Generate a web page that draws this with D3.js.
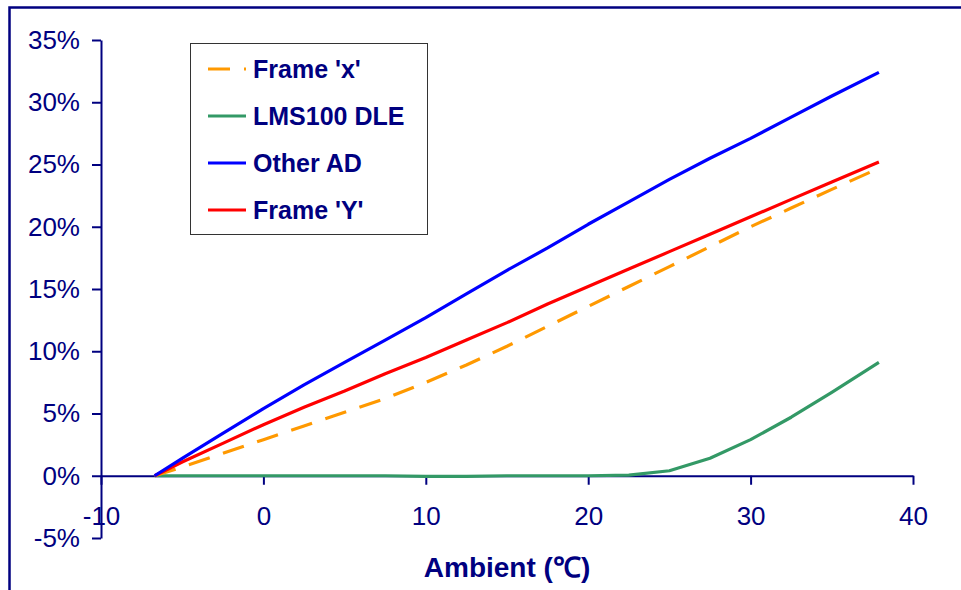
<!DOCTYPE html>
<html>
<head>
<meta charset="utf-8">
<script src="https://cdn.jsdelivr.net/npm/d3@7"></script>
<style>
  body { margin: 0; background: #fff; }
  svg { display: block; }
  .axis path, .axis line { stroke: #000080; stroke-width: 2; }
  .axis text { fill: #000080; font-family: "Liberation Sans", Arial, sans-serif; font-size: 26px; }
</style>
</head>
<body>
<svg id="chart" width="961" height="590"></svg>
<script>
// ambient temperature (deg C) at each sample
var temps = [-6.7, -5, -2.5, 0, 2.5, 5, 7.5, 10, 12.5, 15, 17.5, 20, 22.5, 25, 27.5, 30, 32.5, 35, 37.9];

// percentage values per series
var frameX  = [0, 0.7, 1.8, 2.9, 4.0, 5.1, 6.2, 7.5, 8.9, 10.4, 12.0, 13.6, 15.2, 16.8, 18.4, 20.0, 21.5, 23.0, 24.7];
var lms100  = [0, 0, 0, 0, 0, 0, 0, -0.05, -0.05, 0, 0, 0, 0.05, 0.4, 1.4, 2.9, 4.7, 6.7, 9.1];
var otherAD = [0, 1.4, 3.4, 5.4, 7.3, 9.1, 10.9, 12.7, 14.6, 16.5, 18.3, 20.2, 22.0, 23.8, 25.5, 27.1, 28.8, 30.5, 32.4];
var frameY  = [0, 1.1, 2.6, 4.1, 5.5, 6.8, 8.2, 9.5, 10.9, 12.3, 13.8, 15.2, 16.6, 18.0, 19.4, 20.8, 22.2, 23.6, 25.2];

var xTicks = [-10, 0, 10, 20, 30, 40];
var yTicks = [-5, 0, 5, 10, 15, 20, 25, 30, 35];

var seriesNames  = ["Frame 'x'", "LMS100 DLE", "Other AD", "Frame 'Y'"];
var seriesColors = ["#FF9900", "#339966", "#0000FF", "#FF0000"];
var seriesDash   = ["22,14", null, null, null];
var seriesValues = [frameX, lms100, otherAD, frameY];

var navy = "#000080";
var svg = d3.select("#chart");

// outer frame, runs off the right and bottom edges
svg.append("rect")
  .attr("x", 9.5).attr("y", 7.5).attr("width", 1000).attr("height", 1000)
  .attr("fill", "none").attr("stroke", navy).attr("stroke-width", 2.5);

var x = d3.scaleLinear().domain([-10, 40]).range([101, 913]);
var y = d3.scaleLinear().domain([-5, 35]).range([538, 40]);

// y axis sits at x = -10
svg.append("g").attr("class", "axis")
  .attr("transform", "translate(" + x(-10) + ",0)")
  .call(d3.axisLeft(y).tickValues(yTicks).tickSize(9).tickSizeOuter(0).tickPadding(12)
    .tickFormat(function(d) { return d + "%"; }));

// x axis crosses at 0%
svg.append("g").attr("class", "axis")
  .attr("transform", "translate(0," + y(0) + ")")
  .call(d3.axisBottom(x).tickValues(xTicks).tickSize(9).tickSizeOuter(0).tickPadding(22)
    .tickFormat(function(d) { return String(d); }));

svg.selectAll(".axis .domain").attr("stroke-width", 2.5);

svg.append("text")
  .attr("x", 507).attr("y", 577).attr("text-anchor", "middle")
  .attr("fill", navy).attr("font-weight", "bold")
  .attr("font-family", "'Liberation Sans', Arial, sans-serif").attr("font-size", 28)
  .text("Ambient (\u2103)");

var line = d3.line()
  .x(function(d) { return x(d[0]); })
  .y(function(d) { return y(d[1]); });

// draw series: green first so the others sit on top at the origin
var order = [1, 0, 3, 2];
svg.selectAll("path.series").data(order).enter().append("path")
  .attr("class", "series")
  .attr("d", function(i) { return line(temps.map(function(t, j) { return [t, seriesValues[i][j]]; })); })
  .attr("fill", "none")
  .attr("stroke", function(i) { return seriesColors[i]; })
  .attr("stroke-width", 3.2)
  .attr("stroke-dasharray", function(i) { return seriesDash[i]; })
  .attr("stroke-linejoin", "round");

// legend
var legend = svg.append("g").attr("transform", "translate(190,43)");
legend.append("rect")
  .attr("x", 0.5).attr("y", 0.5).attr("width", 237).attr("height", 191)
  .attr("fill", "#fff").attr("stroke", "#333").attr("stroke-width", 1);

var items = legend.selectAll("g.item").data(seriesNames).enter().append("g")
  .attr("class", "item")
  .attr("transform", function(d, i) { return "translate(0," + (26 + i * 47) + ")"; });
items.append("line")
  .attr("x1", 18).attr("x2", 56).attr("y1", 0).attr("y2", 0)
  .attr("stroke", function(d, i) { return seriesColors[i]; })
  .attr("stroke-width", 3.2)
  .attr("stroke-dasharray", function(d, i) { return seriesDash[i]; });
items.append("text")
  .attr("x", 63).attr("y", 0).attr("dy", "0.36em")
  .attr("fill", navy).attr("font-weight", "bold")
  .attr("font-family", "'Liberation Sans', Arial, sans-serif").attr("font-size", 25)
  .text(function(d) { return d; });
</script>
</body>
</html>
